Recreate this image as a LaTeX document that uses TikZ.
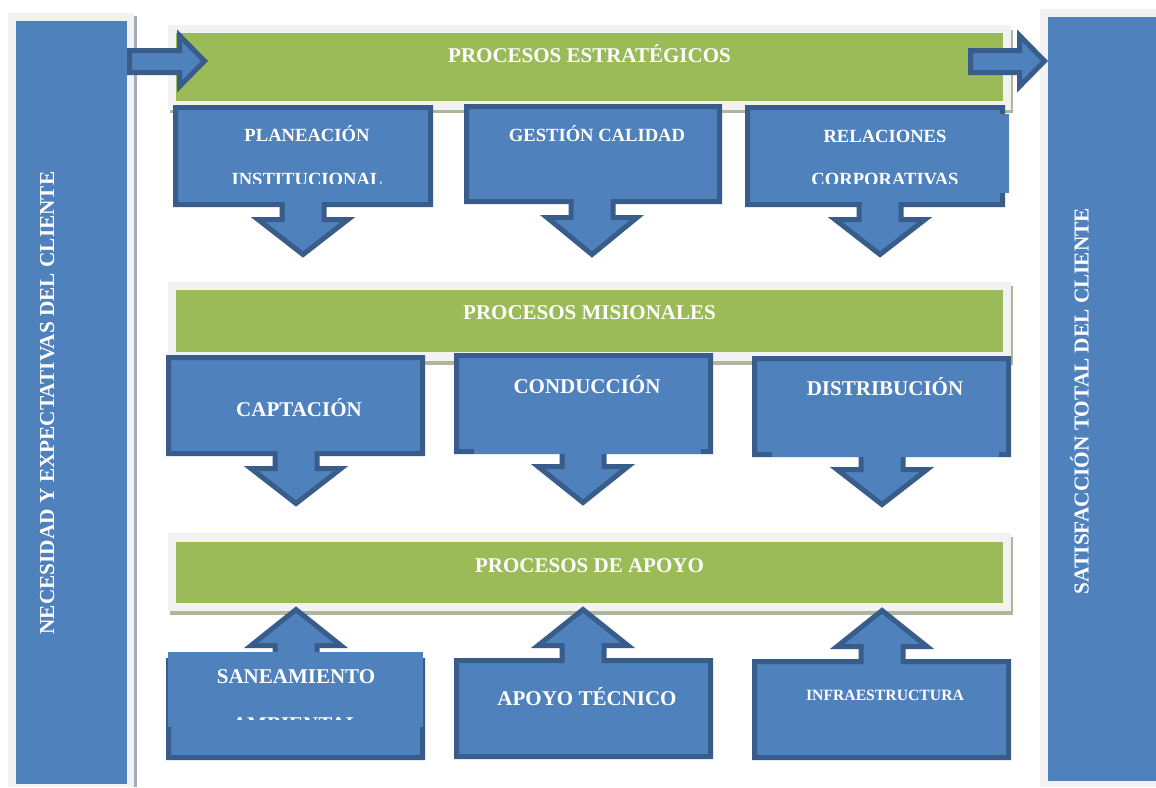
\documentclass[tikz,border=0pt]{standalone}
\usepackage{fontspec}
\setmainfont{Liberation Serif}
\definecolor{boxblue}{HTML}{4F81BD}
\definecolor{boxedge}{HTML}{385D8A}
\definecolor{bandgreen}{HTML}{9BBB59}
\definecolor{framegray}{HTML}{F2F2F2}
\definecolor{bandshadow}{HTML}{AEB69C}
\definecolor{colshadow}{HTML}{A3ABBB}
\tikzset{
  callout/.style={fill=boxblue, draw=boxedge, line width=5pt, line join=miter},
  lbl/.style={text=white, font=\bfseries, inner sep=0pt, anchor=base},
  framebox/.style={fill=framegray},
  greenbox/.style={fill=bandgreen},
  shadowbox/.style={fill=bandshadow},
  overlay/.style={fill=boxblue},
}
\newcommand{\fsz}[1]{\fontsize{#1}{#1}\selectfont}
% L R T B cx stemlength tiplength (centre-line coordinates)
\newcommand{\calldown}[7]{%
  \draw[callout] (#1,#3) -- (#2,#3) -- (#2,#4) -- ({#5+21},#4) -- ({#5+21},{#4+#6})
    -- ({#5+45},{#4+#6}) -- (#5,{#4+#6+#7}) -- ({#5-45},{#4+#6}) -- ({#5-21},{#4+#6})
    -- ({#5-21},#4) -- (#1,#4) -- cycle;}
\newcommand{\callup}[5]{%
  \draw[callout] (#1,#4) -- (#1,#3) -- ({#5-21},#3) -- ({#5-21},{#3-15})
    -- ({#5-45},{#3-15}) -- (#5,{#3-51}) -- ({#5+45},{#3-15}) -- ({#5+21},{#3-15})
    -- ({#5+21},#3) -- (#2,#3) -- (#2,#4) -- cycle;}
\begin{document}
\begin{tikzpicture}[x=1pt,y=-1pt]
\useasboundingbox[fill=white] (0,0) rectangle (1156,787);

% left column
\fill[colshadow] (134,16) rectangle (137,787);
\fill[framegray] (8,13) rectangle (134,787);
\fill[boxblue] (16,21) rectangle (127,784);
\node[lbl, rotate=90, font=\bfseries\fsz{21.3}] (need) at (54,403) {NECESIDAD Y EXPECTATIVAS DEL CLIENTE};

% right column
\fill[framegray] (1040,9) rectangle (1156,787);
\fill[boxblue] (1048,17) rectangle (1156,781);
\node[lbl, rotate=90, font=\bfseries\fsz{21.3}] (satis) at (1088.5,401) {SATISFACCIÓN TOTAL DEL CLIENTE};

% bands
\fill[shadowbox] (170,30) rectangle (1013,113);
\fill[framebox] (168,25) rectangle (1011,110);
\fill[greenbox] (176,33) rectangle (1003,101);
\node[lbl, font=\bfseries\fsz{21}] (estr) at (589.5,62.5) {PROCESOS ESTRATÉGICOS};

\fill[shadowbox] (170,286) rectangle (1013,365);
\fill[framebox] (168,282) rectangle (1011,361);
\fill[greenbox] (176,290) rectangle (1003,352);
\node[lbl, font=\bfseries\fsz{21}] (misi) at (589.5,319) {PROCESOS MISIONALES};

\fill[shadowbox] (170,537) rectangle (1013,615);
\fill[framebox] (168,533) rectangle (1011,611);
\fill[greenbox] (176,542) rectangle (1003,603);
\node[lbl, font=\bfseries\fsz{21}] (apoyo) at (589.5,572) {PROCESOS DE APOYO};

% side arrows
\draw[callout] (129.5,50.5) -- (179.5,50.5) -- (179.5,35.5) -- (204.5,61) -- (179.5,86.5)
  -- (179.5,72.5) -- (129.5,72.5) -- cycle;
\draw[callout] (970.5,50.5) -- (1019.5,50.5) -- (1019.5,35.5) -- (1044.5,61) -- (1019.5,86.5)
  -- (1019.5,72.5) -- (970.5,72.5) -- cycle;

% top row
\calldown{175.5}{430.5}{107.5}{204.5}{303}{15}{35}
\node[lbl, font=\bfseries\fsz{18.6}] (plan) at (307,141.5) {PLANEACIÓN};
\begin{scope}
  \clip (180,150) rectangle (426,183.5);
  \node[lbl, font=\bfseries\fsz{18.6}] (inst) at (307,185.5) {INSTITUCIONAL};
\end{scope}

\calldown{466.5}{719.5}{106.5}{201.5}{592}{16}{37}
\node[lbl, font=\bfseries\fsz{18.6}] (gest) at (597,141) {GESTIÓN CALIDAD};

\calldown{747.5}{1002.5}{107.5}{204.5}{880}{15}{35}
\fill[overlay] (762,114) rectangle (1009,193);
\node[lbl, font=\bfseries\fsz{18.6}] (rela) at (885,142.5) {RELACIONES};
\begin{scope}
  \clip (760,150) rectangle (1000,183);
  \node[lbl, font=\bfseries\fsz{18.6}] (corp) at (885,185.5) {CORPORATIVAS};
\end{scope}

% middle row
\calldown{168.5}{422.5}{357.5}{453.5}{296}{15}{35}
\node[lbl, font=\bfseries\fsz{21}] (capt) at (299,416) {CAPTACIÓN};

\calldown{456.5}{710.5}{355.5}{451.5}{583}{15}{36}
\fill[overlay] (474,380) rectangle (701,454);
\node[lbl, font=\bfseries\fsz{21}] (cond) at (587,393) {CONDUCCIÓN};

\calldown{754.5}{1008.5}{358.5}{454.5}{882}{15}{35}
\fill[overlay] (772,380) rectangle (999,457);
\node[lbl, font=\bfseries\fsz{21}] (dist) at (885,395) {DISTRIBUCIÓN};

% bottom row
\callup{168.5}{422.5}{660.5}{757.5}{296}
\fill[overlay] (168,652) rectangle (423,727);
\node[lbl, font=\bfseries\fsz{21}] (sane) at (296,683) {SANEAMIENTO};
\begin{scope}
  \clip (170,700) rectangle (420,719.5);
  \node[lbl, font=\bfseries\fsz{21}] (ambi) at (296,731) {AMBIENTAL};
\end{scope}

\callup{456.5}{710.5}{660.5}{756.5}{583}
\node[lbl, font=\bfseries\fsz{21}] (tecn) at (587,705) {APOYO TÉCNICO};

\callup{754.5}{1008.5}{661.5}{757.5}{882}
\node[lbl, font=\bfseries\fsz{15.7}] (infr) at (885,700) {INFRAESTRUCTURA};
\end{tikzpicture}
\end{document}
